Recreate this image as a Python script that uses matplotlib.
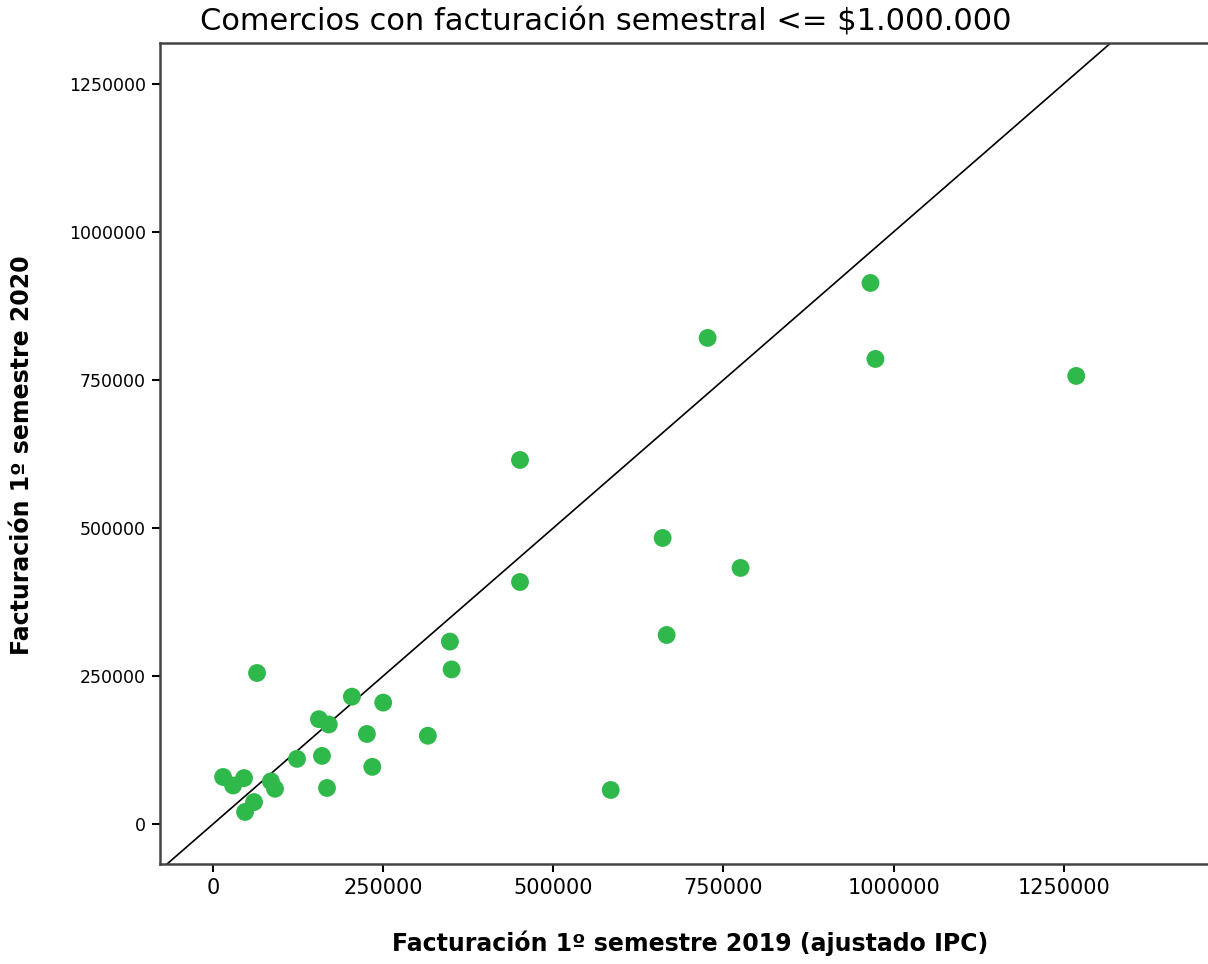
import matplotlib
matplotlib.use("Agg")
import matplotlib.pyplot as plt

# Data: facturación 1º semestre 2019 (ajustado IPC) vs 2020
x_2019 = [14700, 29400, 45500, 47000, 60200, 64600, 85000, 91000, 123300, 155600,
          160000, 170000, 167400, 204000, 226000, 234000, 250000, 315600, 348000, 350500,
          451000, 451000, 584300, 660600, 666500, 726700, 775100, 966000, 973300, 1268400]
y_2020 = [79400, 65000, 77500, 20300, 37000, 255000, 72000, 59500, 110000, 177000,
          115000, 168000, 60800, 215000, 152000, 96500, 205000, 149000, 308000, 261000,
          614800, 408700, 57400, 483000, 319200, 820900, 432400, 913700, 785400, 756700]

x_ticks = [0, 250000, 500000, 750000, 1000000, 1250000]
y_ticks = [0, 250000, 500000, 750000, 1000000, 1250000]

title = "Comercios con facturación semestral <= $1.000.000"
x_label = "Facturación 1º semestre 2019 (ajustado IPC)"
y_label = "Facturación 1º semestre 2020"

fig = plt.figure(figsize=(12.08, 9.64), dpi=100)
ax = fig.add_axes([160/1208, 1 - 864/964, 1 - 160/1208, (864 - 43)/964])

ax.scatter(x_2019, y_2020, s=165, color="#2eb94a", edgecolors="none", zorder=3)
ax.axline((0, 0), slope=1, color="black", lw=1.2, zorder=2)

ax.set_xlim(-78000, 1462000)
ax.set_ylim(-67600, 1319000)
ax.set_xticks(x_ticks)
ax.set_yticks(y_ticks)
ax.set_xticklabels([str(v) for v in x_ticks], fontsize=15)
ax.set_yticklabels([str(v) for v in y_ticks], fontsize=12.5)
ax.tick_params(direction="out", length=6, width=1.5, color="black", pad=4)

for side in ("left", "bottom", "top"):
    ax.spines[side].set_color("#444444")
    ax.spines[side].set_linewidth(1.8)
ax.spines["right"].set_visible(False)

fig.text(690/1208, 1 - 943/964, x_label, ha="center", va="center",
         fontsize=17, fontweight="bold")
fig.text(22/1208, 1 - 455/964, y_label, ha="center", va="center",
         rotation=90, fontsize=17, fontweight="bold")
fig.text(606/1208, 1 - 22/964, title, ha="center", va="center", fontsize=22)

fig.savefig("out.png", dpi=100)
